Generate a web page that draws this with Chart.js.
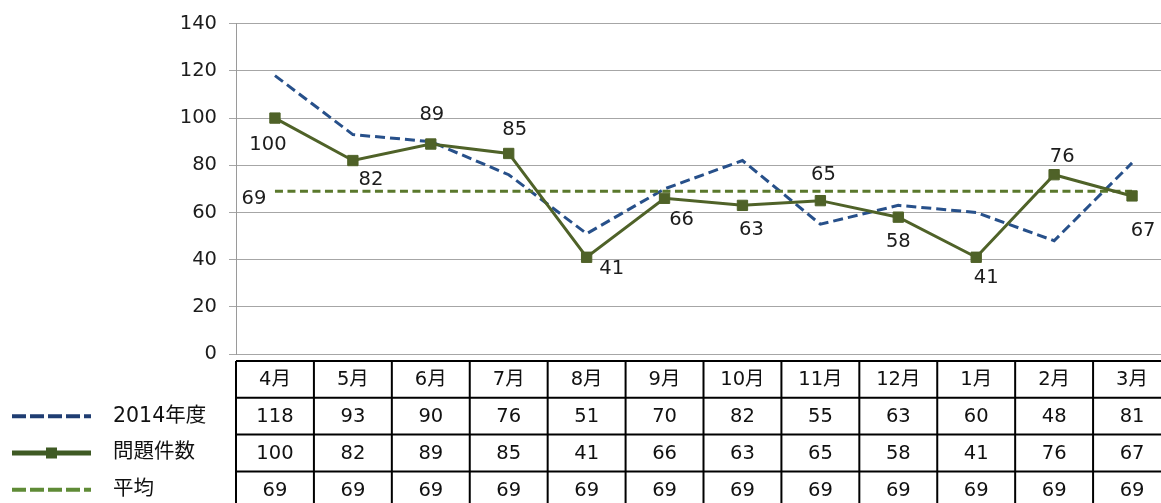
<!DOCTYPE html>
<html>
<head>
<meta charset="utf-8">
<script src="https://cdn.jsdelivr.net/npm/chart.js@4/dist/chart.umd.min.js"></script>
<style>
  html, body { margin: 0; padding: 0; background: #fff; overflow: hidden; }
  #wrap { width: 1171px; height: 503px; }
  #c { display: block; }
</style>
</head>
<body>
<div id="wrap"><canvas id="c" width="1171" height="503"></canvas></div>
<script>
// Monthly categories (fiscal year April - March)
const months = ['4月', '5月', '6月', '7月', '8月', '9月', '10月', '11月', '12月', '1月', '2月', '3月'];
// Previous year counts
const fy2014 = [118, 93, 90, 76, 51, 70, 82, 55, 63, 60, 48, 81];
// Issue counts for the current year
const issueCounts = [100, 82, 89, 85, 41, 66, 63, 65, 58, 41, 76, 67];
// Average of the issue counts
const averageLine = [69, 69, 69, 69, 69, 69, 69, 69, 69, 69, 69, 69];
// Y axis ticks
const yTicks = [0, 20, 40, 60, 80, 100, 120, 140];

const seriesNames = ['2014年度', '問題件数', '平均'];

const FONT = '"DejaVu Sans", "Noto Sans CJK JP", sans-serif';
const FS = 19.5;
const BLUE = '#27508A';
const GREEN = '#4F6228';
const AVG_GREEN = '#5A782C';

// Label offsets (pixels from each point) for the issue count labels
const issueLabelOffsets = [
  [-7, 27], [18, 19], [1, -29], [6, -24], [25, 12], [17, 22],
  [9, 25], [3, -26], [0, 25], [10, 21], [8, -18], [11, 35]
];

const labelPlugin = {
  id: 'pointLabels',
  afterDatasetsDraw(chart) {
    const ctx = chart.ctx;
    ctx.save();
    ctx.font = FS + 'px ' + FONT;
    ctx.fillStyle = '#1c1c1c';
    ctx.textAlign = 'center';
    ctx.textBaseline = 'middle';
    const meta = chart.getDatasetMeta(1);
    meta.data.forEach((pt, i) => {
      const o = issueLabelOffsets[i];
      ctx.fillText(String(issueCounts[i]), pt.x + o[0], pt.y + o[1]);
    });
    const avgMeta = chart.getDatasetMeta(2);
    const p0 = avgMeta.data[0];
    ctx.fillText(String(averageLine[0]), p0.x - 21, p0.y + 8);
    ctx.restore();
  }
};

const tablePlugin = {
  id: 'dataTable',
  afterDraw(chart) {
    const ctx = chart.ctx;
    const xs = chart.scales.x;
    const n = months.length;
    const colW = (chart.chartArea.right - chart.chartArea.left) / n;
    const left = xs.getPixelForValue(0) - colW / 2;
    const right = xs.getPixelForValue(n - 1) + colW / 2;
    const top = 361;
    const rowH = 36.8;
    const rows = [months, fy2014, issueCounts, averageLine];

    ctx.save();
    ctx.strokeStyle = '#000';
    ctx.lineWidth = 2;
    ctx.beginPath();
    for (let r = 0; r <= rows.length; r++) {
      const y = top + r * rowH;
      ctx.moveTo(left, y);
      ctx.lineTo(right, y);
    }
    for (let c = 0; c <= n; c++) {
      const x = left + c * colW;
      ctx.moveTo(x, top);
      ctx.lineTo(x, top + rows.length * rowH);
    }
    ctx.stroke();

    ctx.font = FS + 'px ' + FONT;
    ctx.fillStyle = '#111';
    ctx.textAlign = 'center';
    ctx.textBaseline = 'middle';
    rows.forEach((row, r) => {
      const y = top + r * rowH + rowH / 2;
      row.forEach((v, c) => {
        ctx.fillText(String(v), xs.getPixelForValue(c), y + 1);
      });
    });

    // Legend keys beside the value rows
    const keyX0 = 12, keyX1 = 91, textX = 113;
    seriesNames.forEach((name, k) => {
      const y = top + (k + 1) * rowH + rowH / 2;
      ctx.save();
      if (k === 0) {
        ctx.strokeStyle = '#1F3D72';
        ctx.lineWidth = 4;
        ctx.setLineDash([14, 4]);
      } else if (k === 1) {
        ctx.strokeStyle = '#3F5A24';
        ctx.lineWidth = 5;
      } else {
        ctx.strokeStyle = '#5F8B36';
        ctx.lineWidth = 4;
        ctx.setLineDash([14, 4]);
      }
      ctx.beginPath();
      ctx.moveTo(keyX0, y);
      ctx.lineTo(keyX1, y);
      ctx.stroke();
      if (k === 1) {
        ctx.fillStyle = '#3F5A24';
        ctx.fillRect(46, y - 5.5, 11, 11);
      }
      ctx.restore();
      ctx.textAlign = 'left';
      ctx.fillStyle = '#111';
      ctx.font = '20.5px ' + FONT;
      ctx.fillText(name, textX, y);
    });
    ctx.restore();
  }
};

new Chart(document.getElementById('c'), {
  type: 'line',
  data: {
    labels: months,
    datasets: [
      {
        label: seriesNames[0],
        data: fy2014,
        borderColor: BLUE,
        borderWidth: 3,
        borderDash: [10, 5],
        pointRadius: 0,
        tension: 0,
        fill: false,
        order: 3
      },
      {
        label: seriesNames[1],
        data: issueCounts,
        borderColor: GREEN,
        backgroundColor: GREEN,
        borderWidth: 3,
        pointStyle: 'rect',
        pointRadius: 7.3,
        pointBorderWidth: 1,
        pointBackgroundColor: GREEN,
        pointBorderColor: GREEN,
        tension: 0,
        fill: false,
        order: 1
      },
      {
        label: seriesNames[2],
        data: averageLine,
        borderColor: AVG_GREEN,
        borderWidth: 3,
        borderDash: [8, 4.5],
        pointRadius: 0,
        tension: 0,
        fill: false,
        order: 2
      }
    ]
  },
  options: {
    responsive: false,
    animation: false,
    layout: { autoPadding: false, padding: { top: 21, bottom: 149, left: 0, right: 0 } },
    plugins: {
      legend: { display: false },
      tooltip: { enabled: false }
    },
    scales: {
      x: {
        display: false,
        offset: true
      },
      y: {
        min: 0,
        max: 140,
        afterBuildTicks(scale) {
          scale.ticks = yTicks.map(v => ({ value: v }));
        },
        afterFit(scale) { scale.width = 236; },
        border: { display: true, color: '#9a9a9a', width: 1 },
        grid: {
          color: '#a6a6a6',
          lineWidth: 1,
          tickLength: 7,
          drawTicks: true
        },
        ticks: {
          padding: 12,
          color: '#1c1c1c',
          font: { family: FONT, size: FS }
        }
      }
    }
  },
  plugins: [labelPlugin, tablePlugin]
});
</script>
</body>
</html>
